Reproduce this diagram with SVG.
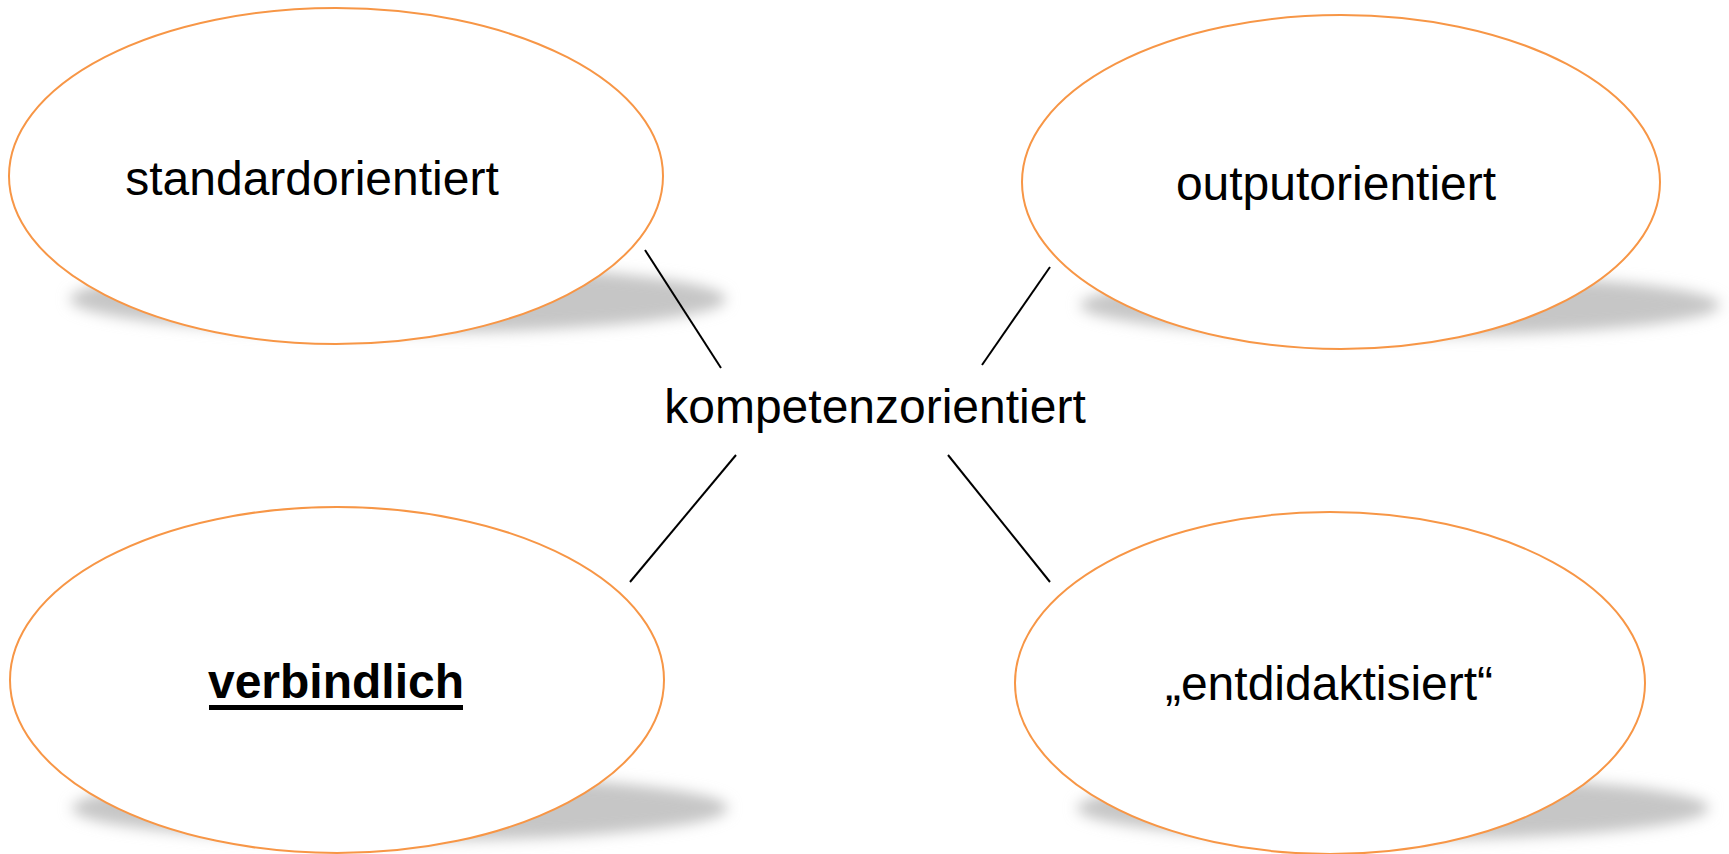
<svg xmlns="http://www.w3.org/2000/svg" width="1729" height="854" viewBox="0 0 1729 854">
<defs>
<filter id="blur" x="-20%" y="-100%" width="140%" height="300%"><feGaussianBlur stdDeviation="7"/></filter>
</defs>
<style>
.bg{fill:#ffffff}
.shadow{fill:#c6c6c6;filter:url(#blur)}
.node{fill:#ffffff;stroke:#F79646;stroke-width:2}
.lbl{font-family:"Liberation Sans",Arial,sans-serif;font-size:48px;fill:#000;text-anchor:middle}
.bold{font-weight:bold}
.uline{fill:#000}
.conn{stroke:#000;stroke-width:2;fill:none}
</style>
<rect class="bg" x="0" y="0" width="1729" height="854"/>
<g id="node-standardorientiert">
<ellipse class="shadow" cx="398" cy="299" rx="328" ry="34"/>
<ellipse class="node" cx="336" cy="176" rx="327" ry="168"/>
<text class="lbl" x="312" y="195">standardorientiert</text>
</g>
<g id="node-outputorientiert">
<ellipse class="shadow" cx="1400" cy="305" rx="320" ry="31"/>
<ellipse class="node" cx="1341" cy="182" rx="319" ry="167"/>
<text class="lbl" x="1336" y="200">outputorientiert</text>
</g>
<g id="node-verbindlich">
<ellipse class="shadow" cx="400" cy="808" rx="328" ry="33"/>
<ellipse class="node" cx="337" cy="680" rx="327" ry="173"/>
<text class="lbl bold" x="336" y="698">verbindlich</text>
<rect class="uline" x="209" y="705" width="254" height="5"/>
</g>
<g id="node-entdidaktisiert">
<ellipse class="shadow" cx="1393" cy="808" rx="316" ry="32"/>
<ellipse class="node" cx="1330" cy="683" rx="315" ry="171"/>
<text class="lbl" x="1329" y="700">„entdidaktisiert“</text>
</g>
<g id="node-kompetenzorientiert">
<text class="lbl" x="875" y="423">kompetenzorientiert</text>
</g>
<g id="connectors">
<line class="conn" x1="645" y1="250" x2="721" y2="368"/>
<line class="conn" x1="1050" y1="267" x2="982" y2="365"/>
<line class="conn" x1="736" y1="455" x2="630" y2="582"/>
<line class="conn" x1="948" y1="455" x2="1050" y2="582"/>
</g>
</svg>
